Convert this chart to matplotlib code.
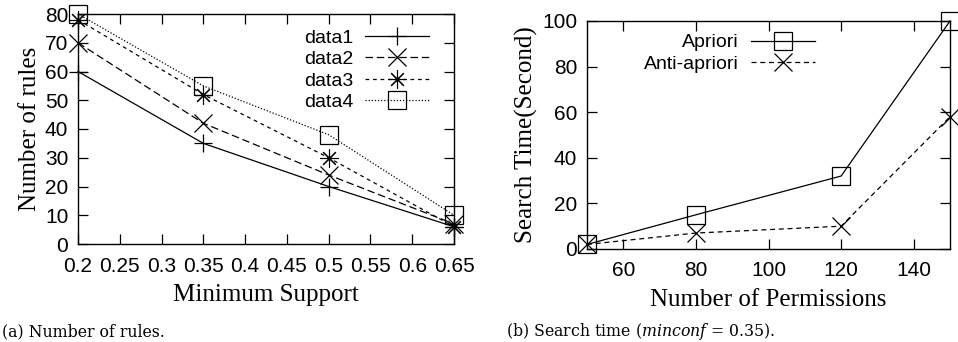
import matplotlib
matplotlib.use("Agg")
import matplotlib.pyplot as plt

plt.rcParams["mathtext.fontset"] = "custom"
plt.rcParams["mathtext.it"] = "DejaVu Serif:italic"
plt.rcParams["mathtext.rm"] = "DejaVu Serif"

# Data (a)
support = [0.2, 0.35, 0.5, 0.65]
data1 = [60, 35, 20, 6]
data2 = [70, 42, 24, 7]
data3 = [78, 52, 30, 6]
data4 = [80, 55, 38, 10]
left_xticks = [0.2, 0.25, 0.3, 0.35, 0.4, 0.45, 0.5, 0.55, 0.6, 0.65]
left_yticks = [0, 10, 20, 30, 40, 50, 60, 70, 80]

# Data (b)
permissions = [50, 80, 120, 150]
apriori = [2, 15, 32, 100]
anti_apriori = [2, 7, 10, 58]
right_xticks = [60, 80, 100, 120, 140]
right_yticks = [0, 20, 40, 60, 80, 100]

SANS = "Liberation Sans"
SERIF = "Liberation Serif"

fig = plt.figure(figsize=(9.58, 3.42), dpi=100)
ax1 = fig.add_axes([78/958, 1-244/342, (454-78)/958, (244-14)/342])
ax2 = fig.add_axes([587/958, 1-249/342, (950-587)/958, (249-21)/342])

lw = 0.9
ms = 13
common = dict(color="black", lw=lw, mew=0.9, ms=ms, clip_on=False)
ax1.plot(support, data1, ls="-", marker="+", label="data1", **common)
ax1.plot(support, data2, ls=(0, (6, 3)), marker="x", label="data2", **common)
ax1.plot(support, data3, ls=(0, (3, 3)), marker=(8, 2, 0), label="data3",
         **{**common, "mew": 0.8})
ax1.plot(support, data4, ls=(0, (1, 1.5)), marker="s", mfc="none", label="data4", **common)
ax1.set_xlim(0.2, 0.65)
ax1.set_ylim(0, 80)
ax1.set_xticks(left_xticks)
ax1.set_yticks(left_yticks)
ax1.set_xticklabels(["%g" % v for v in left_xticks])

ax2.plot(permissions, apriori, ls="-", marker="s", mfc="none", label="Apriori", **common)
ax2.plot(permissions, anti_apriori, ls=(0, (4, 3)), marker="x", label="Anti-apriori", **common)
ax2.set_xlim(50, 150)
ax2.set_ylim(0, 100)
ax2.set_xticks(right_xticks)
ax2.set_yticks(right_yticks)

for ax in (ax1, ax2):
    ax.tick_params(direction="in", length=7, width=0.9, top=True, right=True,
                   labelsize=15)
    ax.tick_params(axis="x", pad=9)
    ax.tick_params(axis="y", pad=7)
    for lab in ax.get_xticklabels() + ax.get_yticklabels():
        lab.set_fontfamily(SANS)
    for s in ax.spines.values():
        s.set_linewidth(1.0)

ax1.set_xlabel("Minimum Support", fontfamily=SERIF, fontsize=18, labelpad=6)
ax1.set_ylabel("Number of rules", fontfamily=SERIF, fontsize=18, labelpad=3)
ax2.set_xlabel("Number of Permissions", fontfamily=SERIF, fontsize=18, labelpad=6)
ax2.set_ylabel("Search Time(Second)", fontfamily=SERIF, fontsize=18, labelpad=3)

leg1 = ax1.legend(loc="upper right", bbox_to_anchor=(0.965, 0.985), frameon=False,
                  markerfirst=False, prop={"family": SANS, "size": 14},
                  handlelength=3.3, labelspacing=0.2, handletextpad=0.6,
                  borderaxespad=0.2)
leg2 = ax2.legend(loc="upper left", bbox_to_anchor=(0.125, 0.995), frameon=False,
                  markerfirst=False, prop={"family": SANS, "size": 14},
                  handlelength=3.3, labelspacing=0.2, handletextpad=0.6,
                  borderaxespad=0.2)
for t in leg2.get_texts():
    t.set_ha("right")

fig.text(2/958, 1-336/342, "(a) Number of rules.", fontfamily="DejaVu Serif",
         fontsize=11.3, va="baseline")
fig.text(506/958, 1-336/342, r"(b) Search time ($\mathit{minconf}$ = 0.35).",
         fontfamily="DejaVu Serif", fontsize=11.3, va="baseline")

fig.savefig("out.png", dpi=100)
